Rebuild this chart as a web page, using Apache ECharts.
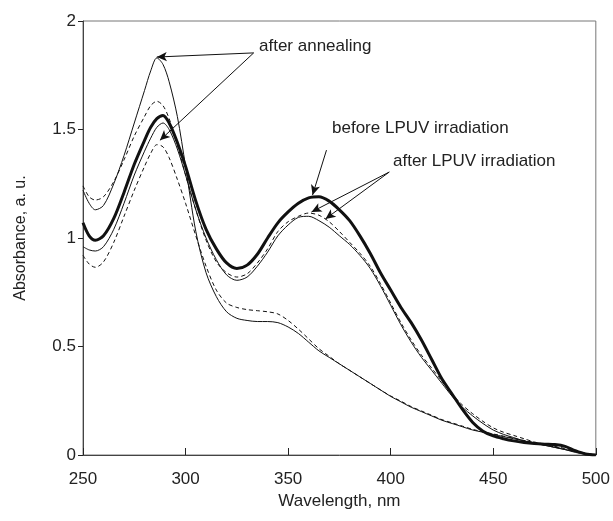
<!DOCTYPE html>
<html>
<head>
<meta charset="utf-8">
<script src="https://cdn.jsdelivr.net/npm/echarts@6/dist/echarts.min.js"></script>
<style>
  html, body { margin: 0; padding: 0; background: #fff; }
  #chart { width: 613px; height: 521px; }
</style>
</head>
<body>
<div id="chart"></div>
<script>
// wavelength grid, nm
const wavelength = [250, 253, 256, 260, 265, 270, 275, 280, 283, 286, 289, 292, 296, 300,
  305, 310, 315, 320, 325, 330, 335, 340, 345, 350, 355, 360, 365, 370, 375, 380,
  385, 390, 395, 400, 405, 410, 415, 420, 425, 430, 435, 440, 445, 450, 455, 460,
  465, 470, 475, 480, 485, 490, 495, 500]

// after annealing, thin solid (tall peak)
const annealSolid = [1.22, 1.16, 1.13, 1.15, 1.25, 1.38, 1.53, 1.68, 1.77, 1.83, 1.80, 1.72, 1.56, 1.33,
  1.03, 0.84, 0.73, 0.66, 0.63, 0.62, 0.615, 0.615, 0.61, 0.59, 0.56, 0.52, 0.48, 0.45, 0.42, 0.39,
  0.36, 0.33, 0.30, 0.27, 0.245, 0.22, 0.20, 0.18, 0.16, 0.145, 0.13, 0.115, 0.105, 0.095, 0.085, 0.075,
  0.065, 0.055, 0.045, 0.035, 0.025, 0.015, 0.007, 0]

// after annealing, dashed (low peak)
const annealDashed = [0.92, 0.88, 0.865, 0.89, 0.98, 1.10, 1.22, 1.33, 1.39, 1.43, 1.42, 1.37, 1.27, 1.16,
  1.01, 0.87, 0.76, 0.70, 0.68, 0.67, 0.665, 0.66, 0.65, 0.62, 0.58, 0.535, 0.49, 0.455, 0.42, 0.39,
  0.36, 0.33, 0.30, 0.272, 0.248, 0.223, 0.203, 0.183, 0.163, 0.148, 0.133, 0.118, 0.107, 0.097, 0.087, 0.077,
  0.067, 0.057, 0.047, 0.037, 0.027, 0.016, 0.007, 0]

// before LPUV irradiation, thick
const beforeLpuv = [1.07, 1.01, 0.99, 1.01, 1.09, 1.21, 1.34, 1.45, 1.51, 1.55, 1.565, 1.53, 1.44, 1.33,
  1.17, 1.04, 0.95, 0.885, 0.86, 0.875, 0.925, 1.00, 1.07, 1.12, 1.16, 1.185, 1.19, 1.17, 1.13, 1.08,
  1.01, 0.93, 0.84, 0.76, 0.68, 0.61, 0.53, 0.44, 0.35, 0.28, 0.21, 0.15, 0.11, 0.088, 0.075, 0.065,
  0.058, 0.053, 0.05, 0.048, 0.04, 0.02, 0.005, 0]

// after LPUV irradiation, thin solid
const afterLpuvSolid = [0.96, 0.945, 0.94, 0.96, 1.04, 1.16, 1.29, 1.40, 1.46, 1.51, 1.53, 1.50, 1.41, 1.29,
  1.13, 1.00, 0.90, 0.83, 0.805, 0.82, 0.87, 0.935, 1.01, 1.06, 1.095, 1.10, 1.08, 1.05, 1.01, 0.97,
  0.92, 0.86, 0.78, 0.69, 0.60, 0.52, 0.45, 0.39, 0.33, 0.27, 0.22, 0.18, 0.145, 0.115, 0.095, 0.08,
  0.065, 0.055, 0.045, 0.035, 0.025, 0.012, 0.004, 0]

// after LPUV irradiation, dashed
const afterLpuvDashed = [1.24, 1.19, 1.175, 1.19, 1.26, 1.36, 1.47, 1.56, 1.61, 1.63, 1.61, 1.55, 1.43, 1.29,
  1.13, 0.99, 0.89, 0.84, 0.82, 0.835, 0.885, 0.95, 1.03, 1.075, 1.10, 1.115, 1.105, 1.075, 1.03, 0.98,
  0.93, 0.87, 0.79, 0.70, 0.61, 0.53, 0.46, 0.40, 0.34, 0.28, 0.23, 0.19, 0.155, 0.125, 0.105, 0.09,
  0.075, 0.06, 0.05, 0.04, 0.03, 0.018, 0.006, 0]

const xTicks = [250, 300, 350, 400, 450, 500]

function pairs(ys) {
  return wavelength.map((x, i) => [x, ys[i]])
}

function curve(name, ys, width, dashed) {
  return {
    name: name,
    type: 'line',
    data: pairs(ys),
    showSymbol: false,
    smooth: 0.3,
    lineStyle: { color: '#111', width: width, type: dashed ? [4, 3] : 'solid' },
    animation: false,
    z: width > 2 ? 3 : 2
  }
}

// annotation arrows, [from, to] in data units
const arrowLines = [
  [[333.2, 1.853], [286, 1.834]],
  [[333.2, 1.853], [287.5, 1.45]],
  [[368.7, 1.405], [361.9, 1.198]],
  [[399.3, 1.304], [361.4, 1.12]],
  [[399.3, 1.304], [368.2, 1.088]]
]

const chart = echarts.init(document.getElementById('chart'))
const font = 'Liberation Sans, Arial, sans-serif'

const option = {
  backgroundColor: '#fff',
  grid: {
    show: true,
    left: 83,
    right: 16,
    top: 21,
    bottom: 66,
    borderColor: '#777',
    borderWidth: 1
  },
  xAxis: {
    type: 'value',
    min: 250,
    max: 500,
    interval: 50,
    name: 'Wavelength, nm',
    nameLocation: 'middle',
    nameGap: 36,
    nameTextStyle: { fontFamily: font, fontSize: 17, color: '#222' },
    axisLine: { lineStyle: { color: '#444', width: 1 } },
    axisTick: { inside: true, length: 7, lineStyle: { color: '#222' } },
    axisLabel: {
      fontFamily: font,
      fontSize: 17,
      color: '#222',
      margin: 16,
      customValues: xTicks
    },
    splitLine: { show: false }
  },
  yAxis: {
    type: 'value',
    min: 0,
    max: 2,
    interval: 0.5,
    name: 'Absorbance, a. u.',
    nameLocation: 'middle',
    nameGap: 54,
    nameTextStyle: { fontFamily: font, fontSize: 16, color: '#222' },
    axisLine: { show: true, lineStyle: { color: '#444', width: 1 } },
    axisTick: { show: true, inside: false, length: 5, lineStyle: { color: '#222' } },
    axisLabel: {
      fontFamily: font,
      fontSize: 17,
      color: '#222',
      margin: 7,
      formatter: v => String(v)
    },
    splitLine: { show: false }
  },
  series: [
    curve('after annealing', annealSolid, 1, false),
    curve('after annealing dashed', annealDashed, 1, true),
    curve('after LPUV dashed', afterLpuvDashed, 1, true),
    curve('after LPUV', afterLpuvSolid, 1, false),
    Object.assign(curve('before LPUV irradiation', beforeLpuv, 3, false), {
      markLine: {
        silent: true,
        animation: false,
        symbol: ['none', 'arrow'],
        symbolSize: [7, 10],
        label: { show: false },
        lineStyle: { color: '#111', width: 1, type: 'solid' },
        data: arrowLines.map(p => [{ coord: p[0] }, { coord: p[1] }])
      }
    })
  ],
  graphic: [
    { type: 'text', left: 259, top: 38, style: { text: 'after annealing', font: '17px ' + font, fill: '#222' } },
    { type: 'text', left: 332, top: 120, style: { text: 'before LPUV irradiation', font: '17px ' + font, fill: '#222' } },
    { type: 'text', left: 393, top: 153, style: { text: 'after LPUV irradiation', font: '17px ' + font, fill: '#222' } }
  ]
}

chart.setOption(option)
</script>
</body>
</html>
